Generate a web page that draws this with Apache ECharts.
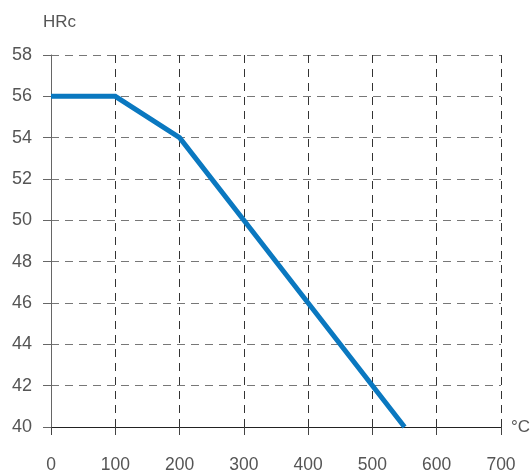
<!DOCTYPE html>
<html><head><meta charset="utf-8">
<script src="https://cdn.jsdelivr.net/npm/echarts@6/dist/echarts.min.js"></script>
<style>html,body{margin:0;padding:0;background:#fff}#c{width:532px;height:474px}</style>
</head><body><div id="c"></div>
<script>
const temperatures = [0, 100, 200, 300, 400, 550];
const hardness = [56, 56, 54, 50, 46, 40];
const xTicks = [0, 100, 200, 300, 400, 500, 600, 700];
const yTicks = [40, 42, 44, 46, 48, 50, 52, 54, 56, 58];

const FONT = '"Liberation Sans", Arial, sans-serif';
const chart = echarts.init(document.getElementById('c'));
chart.setOption({
  animation: false,
  grid: {left: 51, right: 31, top: 55, bottom: 47, containLabel: false, outerBoundsMode: 'none'},
  xAxis: {
    type: 'value', min: xTicks[0], max: xTicks[xTicks.length-1], interval: 100,
    name: '°C', nameLocation: 'end', nameGap: 10,
    nameTextStyle: {color: '#555', fontSize: 17, fontFamily: FONT, verticalAlign: 'middle'},
    axisLine: {lineStyle: {color: '#222', width: 1.2}},
    axisTick: {show: true, length: 8, lineStyle: {color: '#444'}},
    axisLabel: {color: '#555', fontSize: 17.5, fontFamily: FONT, margin: 29},
    splitLine: {show: true, lineStyle: {color: '#333', type: [8, 6], width: 1}}
  },
  yAxis: {
    type: 'value', min: yTicks[0], max: yTicks[yTicks.length-1], interval: 2,
    name: 'HRc', nameLocation: 'end', nameGap: 24,
    nameTextStyle: {color: '#555', fontSize: 17, fontFamily: FONT, align: 'left', padding: [0,0,0,-8]},
    axisLine: {show: true, lineStyle: {color: '#666', width: 1}},
    axisTick: {show: true, length: 8, lineStyle: {color: '#666'}},
    axisLabel: {color: '#555', fontSize: 18, fontFamily: FONT, margin: 19},
    splitLine: {show: true, lineStyle: {color: '#777', type: [8, 6], width: 1}}
  },
  series: [{
    type: 'line',
    data: temperatures.map((t, i) => [t, hardness[i]]),
    showSymbol: false,
    lineStyle: {color: '#0a78c0', width: 5, join: 'miter'},
    z: 5
  }]
});
</script></body></html>
